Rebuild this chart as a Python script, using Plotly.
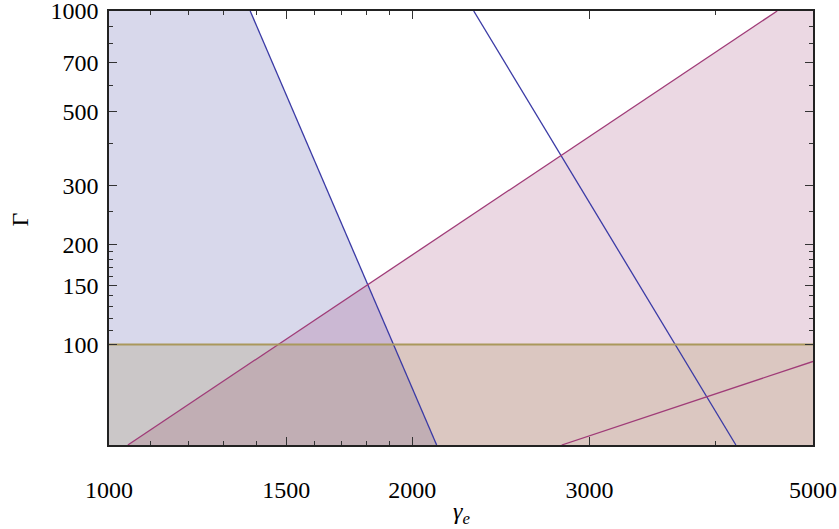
import math
import plotly.graph_objects as go

# axis extents (gamma_e, Gamma)
x_range = [1000, 5000]
y_range = [50, 1000]

# line endpoints: (gamma_e, Gamma)
blue1_g = [1381, 2115]
blue1_G = [1000, 50]
blue2_g = [2302, 4192]
blue2_G = [1000, 50]
mag1_g = [1044, 4607]
mag1_G = [50, 1000]
mag2_g = [2815, 5000]
mag2_G = [50, 89]
yel_g = [1000, 5000]
yel_G = [100, 100]

# ticks
x_ticks = [1000, 1500, 2000, 3000, 5000]
x_minor = [1100, 1200, 1300, 1400, 1600, 1700, 1800, 1900, 4000]
y_ticks = [100, 150, 200, 300, 500, 700, 1000]
y_minor = [110, 120, 130, 140, 160, 170, 180, 190, 250, 400, 600, 800, 900]

BLUE = (61, 61, 153)
MAG = (153, 61, 116)
YEL = (153, 133, 61)
BLUE_LINE = (58, 58, 165)
MAG_LINE = (160, 60, 120)
YEL_LINE = (170, 152, 92)


def rgb(c):
    return "rgb(%d,%d,%d)" % c


def rgba(c, a):
    return "rgba(%d,%d,%d,%s)" % (c + (a,))


fig = go.Figure()

# fills
fig.add_trace(go.Scatter(
    x=[x_range[0], x_range[0]] + blue1_g,
    y=[y_range[0], y_range[1]] + blue1_G,
    fill="toself", fillcolor=rgba(BLUE, 0.2), mode="none", hoverinfo="skip"))
fig.add_trace(go.Scatter(
    x=mag1_g + [x_range[1], x_range[1]],
    y=mag1_G + [y_range[1], y_range[0]],
    fill="toself", fillcolor=rgba(MAG, 0.2), mode="none", hoverinfo="skip"))
fig.add_trace(go.Scatter(
    x=yel_g + [yel_g[1], yel_g[0]],
    y=yel_G + [y_range[0], y_range[0]],
    fill="toself", fillcolor=rgba(YEL, 0.2), mode="none", hoverinfo="skip"))

# lines
for gx, gy, c, w in [(blue1_g, blue1_G, BLUE_LINE, 1.3), (blue2_g, blue2_G, BLUE_LINE, 1.3),
                     (mag1_g, mag1_G, MAG_LINE, 1.3), (mag2_g, mag2_G, MAG_LINE, 1.3),
                     (yel_g, yel_G, YEL_LINE, 2.0)]:
    fig.add_trace(go.Scatter(x=gx, y=gy, mode="lines",
                             line=dict(color=rgb(c), width=w)))

font = dict(family="Liberation Serif, Times New Roman, serif", size=24, color="black")

axis_common = dict(
    type="log", showgrid=False, zeroline=False, automargin=False,
    showline=True, linecolor="#222222", linewidth=1.5, mirror="allticks",
    ticks="inside", ticklen=8, tickwidth=1, tickcolor="#333333",
    tickfont=font, ticklabeloverflow="allow",
)

fig.update_layout(
    width=839, height=529,
    margin=dict(l=109, r=26, t=11, b=84),
    paper_bgcolor="white", plot_bgcolor="white",
    showlegend=False,
    font=font,
    xaxis=dict(
        range=[math.log10(x_range[0]), math.log10(x_range[1])],
        tickvals=x_ticks, ticktext=[str(v) for v in x_ticks],
        minor=dict(tickvals=x_minor, ticks="inside", ticklen=4, tickcolor="#333333"),
        ticklabelstandoff=22,
        **axis_common),
    yaxis=dict(
        range=[math.log10(y_range[0]), math.log10(y_range[1])],
        tickvals=y_ticks, ticktext=[str(v) for v in y_ticks],
        minor=dict(tickvals=y_minor, ticks="inside", ticklen=4, tickcolor="#333333"),
        ticklabelstandoff=4,
        **axis_common),
    annotations=[
        dict(text="<i>γ</i><sub><i>e</i></sub>", xref="paper", yref="paper",
             x=0.5, y=-0.157, xanchor="center", yanchor="middle",
             showarrow=False, font=font),
        dict(text="Γ", xref="paper", yref="paper",
             x=-0.126, y=0.52, xanchor="center", yanchor="middle",
             textangle=-90, showarrow=False, font=font),
    ],
)

fig.write_html("out.html", config={"displayModeBar": False},
               post_script="document.body.style.margin='0';document.body.style.overflow='hidden';")
